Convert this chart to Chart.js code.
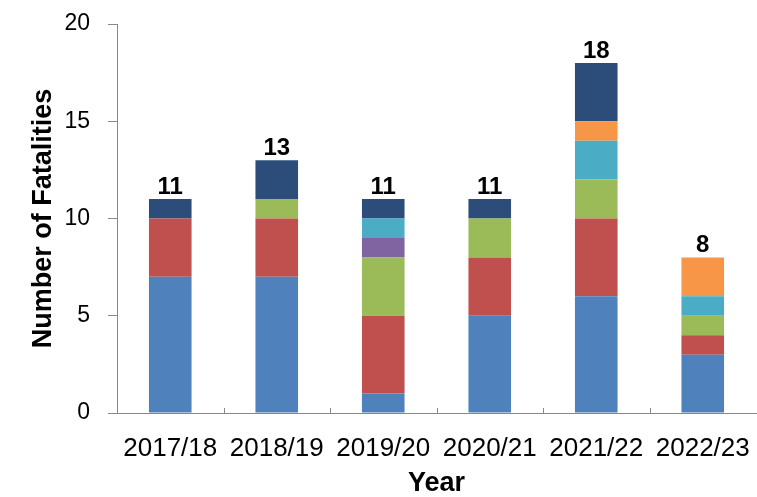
<!DOCTYPE html>
<html>
<head>
<meta charset="utf-8">
<script src="https://cdn.jsdelivr.net/npm/chart.js@4/dist/chart.umd.min.js"></script>
<style>
  html, body { margin: 0; padding: 0; background: #fff; }
  #wrap { width: 757px; height: 497px; }
</style>
</head>
<body>
<div id="wrap"><canvas id="c" width="757" height="497"></canvas></div>
<script>
// Fatalities per year, split by group (stacked bottom to top)
const years = ['2017/18', '2018/19', '2019/20', '2020/21', '2021/22', '2022/23'];
const groupA = [7, 7, 1, 5, 6, 3];
const groupB = [3, 3, 4, 3, 4, 1];
const groupC = [0, 1, 3, 2, 2, 1];
const groupD = [0, 0, 1, 0, 0, 0];
const groupE = [0, 0, 1, 0, 2, 1];
const groupF = [0, 0, 0, 0, 1, 2];
const groupG = [1, 2, 1, 1, 3, 0];
const yTicks = [0, 5, 10, 15, 20];

const seriesList = [
  { label: 'Group A', data: groupA, color: '#4F81BD' },
  { label: 'Group B', data: groupB, color: '#C0504D' },
  { label: 'Group C', data: groupC, color: '#9BBB59' },
  { label: 'Group D', data: groupD, color: '#8064A2' },
  { label: 'Group E', data: groupE, color: '#4BACC6' },
  { label: 'Group F', data: groupF, color: '#F79646' },
  { label: 'Group G', data: groupG, color: '#2C4D7A' }
];

// Bold totals above each stack
const totalsPlugin = {
  id: 'totals',
  afterDatasetsDraw(chart) {
    const { ctx, scales: { x, y } } = chart;
    ctx.save();
    ctx.font = 'bold 24px "Liberation Sans", Arial, sans-serif';
    ctx.fillStyle = '#000';
    ctx.textAlign = 'center';
    ctx.textBaseline = 'alphabetic';
    years.forEach((yr, i) => {
      const total = seriesList.reduce((s, d) => s + d.data[i], 0);
      ctx.fillText(String(total), x.getPixelForValue(i), y.getPixelForValue(total) - 5);
    });
    ctx.restore();
  }
};

// Short upward tick marks between categories on the x axis
const catTicksPlugin = {
  id: 'catTicks',
  afterDraw(chart) {
    const { ctx, scales: { x, y } } = chart;
    const base = y.getPixelForValue(0);
    ctx.save();
    ctx.strokeStyle = '#888';
    ctx.lineWidth = 1;
    for (let i = 0; i < years.length - 1; i++) {
      const px = Math.round((x.getPixelForValue(i) + x.getPixelForValue(i + 1)) / 2) + 0.5;
      ctx.beginPath();
      ctx.moveTo(px, base);
      ctx.lineTo(px, base - 5);
      ctx.stroke();
    }
    ctx.restore();
  }
};

new Chart(document.getElementById('c'), {
  type: 'bar',
  data: {
    labels: years,
    datasets: seriesList.map(s => ({
      label: s.label,
      data: s.data,
      backgroundColor: s.color,
      borderWidth: 0,
      barPercentage: 0.4,
      categoryPercentage: 1.0
    }))
  },
  options: {
    responsive: false,
    animation: false,
    layout: { padding: { top: 24, right: 1, left: 0, bottom: 0 } },
    plugins: { legend: { display: false }, tooltip: { enabled: false } },
    scales: {
      x: {
        stacked: true,
        afterFit(s) { s.height = 84; s.paddingLeft = 0; s.paddingRight = 0; },
        grid: { display: false },
        border: { color: '#888', width: 1 },
        ticks: {
          color: '#000',
          padding: 12,
          maxRotation: 0,
          font: { family: '"Liberation Sans", Arial, sans-serif', size: 26 }
        },
        title: {
          display: true,
          text: 'Year',
          color: '#000',
          padding: { top: 0, bottom: 0 },
          font: { family: '"Liberation Sans", Arial, sans-serif', size: 27, weight: 'bold', lineHeight: 1 }
        }
      },
      y: {
        stacked: true,
        min: 0,
        max: 20,
        afterFit(s) { s.width = 117; s.paddingTop = 0; s.paddingBottom = 0; },
        afterBuildTicks(s) { s.ticks = yTicks.map(v => ({ value: v })); },
        grid: { display: true, drawOnChartArea: false, drawTicks: true, tickLength: 9, color: '#888' },
        border: { color: '#888', width: 1 },
        ticks: {
          color: '#000',
          padding: 18,
          font: { family: '"Liberation Sans", Arial, sans-serif', size: 23 }
        },
        title: {
          display: true,
          text: 'Number of Fatalities',
          color: '#000',
          padding: { top: 30, bottom: 0 },
          font: { family: '"Liberation Sans", Arial, sans-serif', size: 27, weight: 'bold', lineHeight: 1 }
        }
      }
    }
  },
  plugins: [totalsPlugin, catTicksPlugin]
});
</script>
</body>
</html>
